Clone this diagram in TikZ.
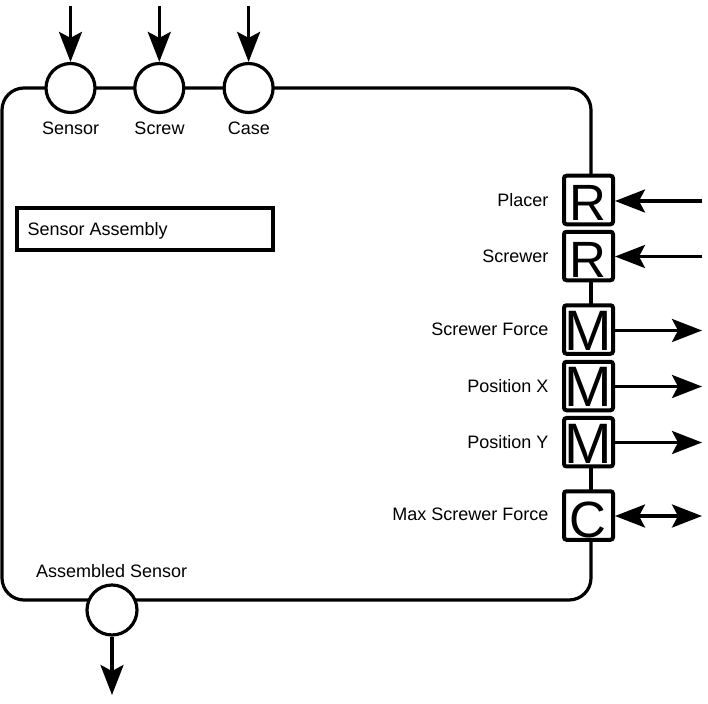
\documentclass[tikz,border=0pt]{standalone}
\usepackage{fontspec}
\setmainfont{Liberation Sans}
\usetikzlibrary{arrows.meta}
\begin{document}
\begin{tikzpicture}[x=1pt,y=-1pt,
  tip/.tip={Stealth[length=30pt,width=23pt,inset=6pt]},
  conn/.style={line width=3.2pt, -tip},
  dconn/.style={line width=3.2pt, tip-tip},
  port/.style={circle, draw, line width=3.2pt, fill=white, minimum size=49pt, inner sep=0pt},
  sig/.style={draw, line width=4pt, rounded corners=2.5pt, minimum width=49pt, minimum height=48.5pt, inner sep=0pt},
  lbl/.style={font=\fontsize{18}{20}\selectfont, inner sep=0pt, text height=12.9pt, text depth=0pt},
  letR/.style={font=\fontsize{51}{51}\selectfont},
  letM/.style={font=\fontsize{57}{57}\selectfont},
  letC/.style={font=\fontsize{51}{51}\selectfont},
  sysbox/.style={draw, line width=4pt, minimum width=256pt, minimum height=42pt, inner sep=0pt}
]
% big letters first (placed by baseline)
\node[letR, anchor=base, inner sep=0pt] (tR1) at (588.3,220.7) {R};
\node[letR, anchor=base, inner sep=0pt] (tR2) at (588.3,277.3) {R};
\node[letM, anchor=base, inner sep=0pt] (tM1) at (588.3,350.3) {M};
\node[letM, anchor=base, inner sep=0pt] (tM2) at (588.3,406.8) {M};
\node[letM, anchor=base, inner sep=0pt] (tM3) at (588.3,463) {M};
\node[letC, anchor=base, inner sep=0pt] (tC1) at (588.0,537.5) {C};

\useasboundingbox (0,0) rectangle (708,703);
% main block (right edge drawn only between the signal boxes)
\draw[line width=3.2pt, rounded corners=22pt] (591,541) -- (591,600) -- (2,600) -- (2,88) -- (591,88) -- (591,174);
\draw[line width=3.2pt] (591,281) -- (591,304);
\draw[line width=3.2pt] (591,467) -- (591,490);

% top input ports
\node[port] (pS) at (70.5,88) {};
\node[port] (pW) at (159.3,88) {};
\node[port] (pC) at (248.6,88) {};
\coordinate (tS) at (70.5,6);
\coordinate (tW) at (159.3,6);
\coordinate (tC) at (248.6,6);
\draw[conn] (tS) -- (pS);
\draw[conn] (tW) -- (pW);
\draw[conn] (tC) -- (pC);

% inner box
\node[sysbox] (sa) at (145,229) {};

% right side signal boxes
\node[sig] (R1) at (588.5,200) {};
\node[sig] (R2) at (588.5,256) {};
\node[sig] (M1) at (588.5,329.5) {};
\node[sig] (M2) at (588.5,386) {};
\node[sig] (M3) at (588.5,442.2) {};
\node[sig] (C1) at (588.5,515.5) {};

\coordinate (iR1) at (702,201);
\coordinate (iR2) at (702,256.5);
\coordinate (oM1) at (702,330.5);
\coordinate (oM2) at (702,386.5);
\coordinate (oM3) at (702,442.5);
\coordinate (oC1) at (702,516);
\draw[conn] (iR1) -- (iR1 -| R1.east);
\draw[conn] (iR2) -- (iR2 -| R2.east);
\draw[conn] (oM1 -| M1.east) -- (oM1);
\draw[conn] (oM2 -| M2.east) -- (oM2);
\draw[conn] (oM3 -| M3.east) -- (oM3);
\draw[dconn] (oC1 -| C1.east) -- (oC1);

% bottom output port
\node[port, minimum size=50pt] (pA) at (112,610) {};
\coordinate (bA) at (112,695);
\draw[conn] (pA) -- (bA);

% texts
\node[lbl] (lS) at (70.7,127.7) {Sensor};
\node[lbl] (lW) at (159.5,127.7) {Screw};
\node[lbl] (lC) at (248.8,127.7) {Case};
\node[lbl, anchor=west] (saT) at (27.5,229) {Sensor Assembly};
\node[lbl, anchor=east] (lR1) at (548.5,200) {Placer};
\node[lbl, anchor=east] (lR2) at (548.5,256) {Screwer};
\node[lbl, anchor=east] (lM1) at (548.5,329.3) {Screwer Force};
\node[lbl, anchor=east] (lM2) at (548.5,386) {Position X};
\node[lbl, anchor=east] (lM3) at (548.5,441.7) {Position Y};
\node[lbl, anchor=east] (lC1) at (548.5,514.3) {Max Screwer Force};
\node[lbl] (lA) at (111.7,570.7) {Assembled Sensor};
\end{tikzpicture}
\end{document}
